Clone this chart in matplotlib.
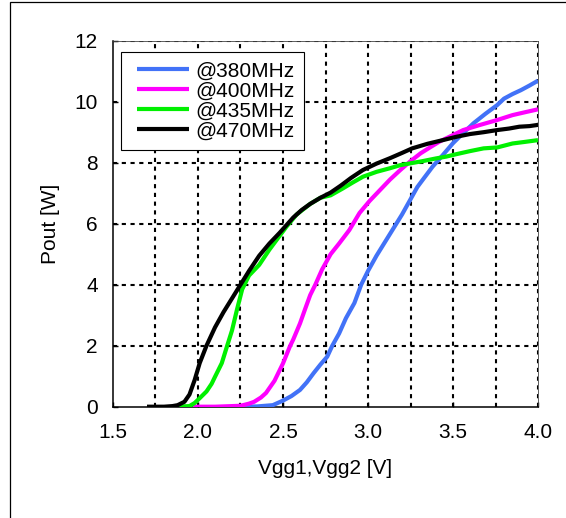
import matplotlib
matplotlib.use("Agg")
import matplotlib.pyplot as plt
from matplotlib.patches import Rectangle
from matplotlib.legend_handler import HandlerLine2D

plt.rcParams['font.family'] = ['Liberation Sans', 'DejaVu Sans']

# ---- data ----
v380 = [2.27, 2.35, 2.44, 2.50, 2.55, 2.60, 2.64, 2.68, 2.72, 2.76, 2.79, 2.83, 2.87, 2.92, 2.96,
        3.00, 3.05, 3.10, 3.15, 3.20, 3.24, 3.29, 3.33, 3.38, 3.44, 3.50, 3.56, 3.62, 3.69, 3.76,
        3.80, 3.85, 3.90, 3.95, 4.00]
p380 = [0.0, 0.01, 0.05, 0.2, 0.35, 0.55, 0.8, 1.1, 1.38, 1.64, 2.0, 2.4, 2.9, 3.4, 4.0,
        4.45, 4.95, 5.4, 5.85, 6.3, 6.7, 7.2, 7.5, 7.87, 8.25, 8.64, 8.97, 9.29, 9.6, 9.89,
        10.1, 10.25, 10.38, 10.53, 10.69]

v400 = [1.97, 2.10, 2.25, 2.30, 2.33, 2.37, 2.40, 2.45, 2.50, 2.54, 2.56, 2.60, 2.63, 2.66, 2.69,
        2.73, 2.78, 2.83, 2.89, 2.95, 3.01, 3.07, 3.13, 3.19, 3.25, 3.31, 3.37, 3.42, 3.49, 3.56,
        3.66, 3.76, 3.85, 3.92, 4.00]
p400 = [0.0, 0.0, 0.03, 0.1, 0.16, 0.3, 0.45, 0.85, 1.42, 1.97, 2.2, 2.73, 3.2, 3.66, 4.0,
        4.5, 5.0, 5.35, 5.79, 6.35, 6.75, 7.1, 7.45, 7.76, 8.05, 8.31, 8.52, 8.69, 8.88, 9.07,
        9.24, 9.4, 9.56, 9.65, 9.75]

v435 = [1.87, 1.95, 1.98, 2.01, 2.05, 2.08, 2.10, 2.14, 2.17, 2.20, 2.23, 2.26, 2.30, 2.36, 2.42,
        2.48, 2.52, 2.58, 2.66, 2.72, 2.78, 2.85, 2.91, 2.97, 3.05, 3.13, 3.19, 3.25, 3.32, 3.40,
        3.46, 3.52, 3.60, 3.68, 3.76, 3.85, 3.92, 4.00]
p435 = [0.0, 0.02, 0.12, 0.28, 0.5, 0.75, 0.98, 1.43, 1.97, 2.5, 3.2, 3.85, 4.3, 4.65, 5.15,
        5.6, 5.9, 6.3, 6.65, 6.85, 6.93, 7.15, 7.35, 7.54, 7.7, 7.82, 7.92, 7.98, 8.05, 8.14,
        8.2, 8.28, 8.38, 8.47, 8.5, 8.63, 8.68, 8.74]

v470 = [1.70, 1.75, 1.80, 1.85, 1.88, 1.92, 1.95, 1.98, 2.01, 2.05, 2.10, 2.15, 2.20, 2.25, 2.30,
        2.36, 2.42, 2.48, 2.52, 2.56, 2.61, 2.66, 2.72, 2.78, 2.84, 2.90, 2.97, 3.05, 3.13, 3.20,
        3.26, 3.35, 3.44, 3.52, 3.60, 3.68, 3.76, 3.83, 3.89, 3.95, 4.00]
p470 = [0.0, 0.0, 0.0, 0.02, 0.05, 0.16, 0.4, 0.87, 1.43, 2.0, 2.6, 3.1, 3.55, 4.0, 4.45,
        4.95, 5.35, 5.7, 5.95, 6.2, 6.45, 6.65, 6.85, 7.02, 7.25, 7.5, 7.76, 7.97, 8.15, 8.32,
        8.47, 8.62, 8.74, 8.85, 8.94, 9.0, 9.07, 9.12, 9.18, 9.2, 9.24]

labels = ['@380MHz', '@400MHz', '@435MHz', '@470MHz']
colors = ['#4272F7', '#FF00FF', '#00F000', '#000000']

xticks = [1.5, 2.0, 2.5, 3.0, 3.5, 4.0]
xgrid = [1.75, 2.0, 2.25, 2.5, 2.75, 3.0, 3.25, 3.5, 3.75, 4.0]
yticks = [0, 2, 4, 6, 8, 10, 12]

# ---- figure ----
fig = plt.figure(figsize=(5.66, 5.18), dpi=100)
ax = fig.add_axes([113/566, 1 - 406.7/518, 425/566, 366/518])

series = [(v380, p380), (v400, p400), (v435, p435), (v470, p470)]
for (vx, py), lab, c in zip(series, labels, colors):
    ax.plot(vx, py, color=c, lw=3.0, label=lab, solid_capstyle='butt', zorder=3)

ax.set_xlim(1.5, 4.0)
ax.set_ylim(0, 12)
ax.set_xticks(xticks)
ax.set_xticklabels([f"{t:.1f}" for t in xticks])
ax.set_yticks(yticks)

gs = dict(color='black', lw=1.5, linestyle=(0, (2, 2.2)), zorder=1)
for g in xgrid:
    ax.axvline(g, **gs)
for g in yticks[1:]:
    ax.axhline(g, **gs)

for s in ['top', 'right']:
    ax.spines[s].set_linewidth(0.6)
    ax.spines[s].set_color('#444444')
for s in ['left', 'bottom']:
    ax.spines[s].set_linewidth(1.1)

ax.tick_params(direction='in', length=3.6, width=1.0, labelsize=15, top=False, right=False)
ax.tick_params(axis='x', pad=12)
ax.tick_params(axis='y', pad=11)

ax.set_xlabel('Vgg1,Vgg2 [V]', fontsize=15, labelpad=12)
ax.set_ylabel('Pout [W]', fontsize=15, labelpad=10)

leg = ax.legend(loc='upper left', bbox_to_anchor=(8/425, (406.7-52)/366), borderaxespad=0,
                fontsize=15, frameon=True, fancybox=False, framealpha=1, edgecolor='black',
                handlelength=2.8, handletextpad=0.3, labelspacing=0.05, borderpad=0.45,
                handler_map={plt.Line2D: HandlerLine2D(xpad=0.3)})
leg.get_frame().set_linewidth(0.8)
leg.set_zorder(5)

fig.patches.append(Rectangle((10/566, -0.1), 1.2, 1.1 - 2.5/518, transform=fig.transFigure,
                             fill=False, edgecolor='black', lw=0.9))

fig.savefig('out.png', dpi=100)
